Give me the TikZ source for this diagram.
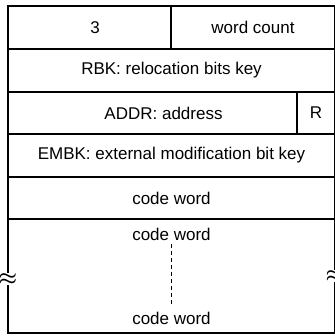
\documentclass[tikz,border=0pt]{standalone}
\usepackage{fontspec}
\setmainfont{Liberation Sans}
\usetikzlibrary{positioning}

\begin{document}
\begin{tikzpicture}[
  x=1pt, y=1pt,
  field/.style={rectangle, draw, line width=1.2pt, outer sep=0pt, inner sep=0pt,
                minimum height=43pt, font=\fontsize{17}{20}\selectfont},
  txt/.style={font=\fontsize{17}{20}\selectfont},
  brk/.style={fill=white, inner sep=0.5pt, font=\fontsize{20}{20}\selectfont\boldmath},
]
\useasboundingbox (0,0) rectangle (334,336);

% Header word
\node[field, minimum width=163pt, anchor=north west] (tag) at (8,330) {\hspace*{11pt}3};
\node[field, minimum width=164pt, right=0pt of tag] (count) {word count};

% Keys and address
\node[field, minimum width=327pt, below right=0pt and 0pt of tag.south west] (rbk) {RBK: relocation bits key};
\node[field, minimum width=289pt, minimum height=42pt, below right=0pt and 0pt of rbk.south west] (addr) {\hspace*{22pt}ADDR: address};
\node[field, minimum width=38pt, minimum height=42pt, right=0pt of addr] (rflag) {R};
\node[field, minimum width=327pt, below right=0pt and 0pt of addr.south west] (embk) {EMBK: external modification bit key};
\node[field, minimum width=327pt, minimum height=42pt, below right=0pt and 0pt of embk.south west] (code) {code word};

% Remaining code words
\node[field, minimum width=327pt, minimum height=114pt, below right=0pt and 0pt of code.south west] (tail) {};
\node[txt] (cwfirst) at ([yshift=-15pt]tail.north) {code word};
\node[txt] (cwlast) at ([yshift=15pt]tail.south) {code word};
\draw[line width=1.4pt, dash pattern=on 4pt off 3pt, shorten >=4pt] (cwfirst) -- (cwlast);

% Break marks
\node[brk] (brkleft) at ([yshift=-3pt]tail.west) {$\approx$};
\node[brk] (brkright) at (tail.east) {$\approx$};
\end{tikzpicture}
\end{document}
